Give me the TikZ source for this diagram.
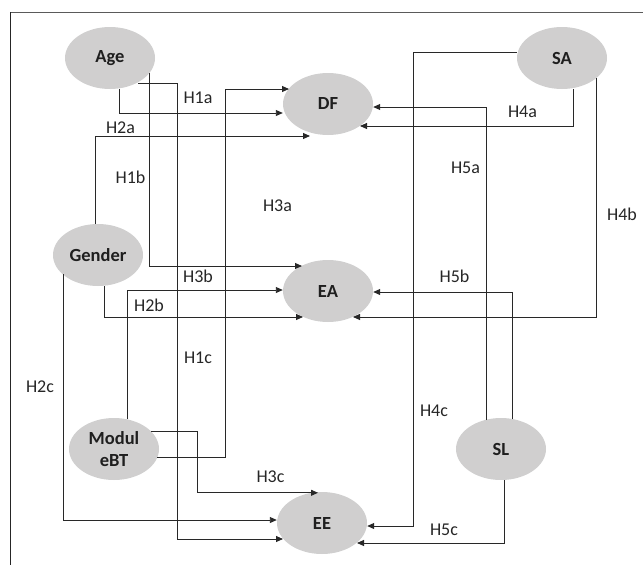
\documentclass[tikz,border=0pt]{standalone}
\usepackage{fontspec}
\setmainfont{Carlito}
\usetikzlibrary{arrows.meta,calc,shapes.geometric}
\definecolor{nodefill}{RGB}{208,207,207}
\definecolor{lineclr}{RGB}{40,40,40}
\definecolor{frameclr}{RGB}{90,90,90}
\begin{document}
\begin{tikzpicture}[x=1pt,y=-1pt,
  var/.style={ellipse,fill=nodefill,minimum width=90pt,minimum height=62pt,inner sep=0pt,
    font=\bfseries\fontsize{18.5}{21.5}\selectfont,text=black!88,align=center},
  conn/.style={draw=lineclr,line width=0.9pt,-{Triangle[length=7pt,width=6pt]}},
  hlab/.style={anchor=base,font=\fontsize{18}{20}\selectfont,text=black!85,inner sep=0pt}]
\useasboundingbox (0,0) rectangle (643,565);
% frame
\coordinate (ftl) at (10,12);
\coordinate (ftr) at (643,12);
\coordinate (fbl) at (10,565);
\draw[frameclr,line width=1pt] (ftl) -- (ftr);
\draw[black!85,line width=1pt] (ftl) -- (fbl);
% nodes
\node[var] (Age) at (110,58) {Age};
\node[var] (DF) at (328,104) {DF};
\node[var] (SA) at (562,58) {SA};
\node[var] (Gender) at (98,255) {Gender};
\node[var] (EA) at (328,291) {EA};
\node[var] (Modul) at (114,449) {Modul\\eBT};
\node[var] (SL) at (501,449) {SL};
\node[var] (EE) at (322,523) {EE};
% connectors
\draw[conn] ($(Age.south)+(9,0)$) |- ($(DF.west)+(0,9)$); % H1a
\draw[conn] ($(Age.center)+(39,15)$) |- ($(EA.center)+(-26,-25)$); % H1b
\draw[conn] ($(Age.center)+(28,25)$) -- ++(39,0) |- ($(EE.center)+(-39,16)$); % H1c
\draw[conn] ($(Gender.north)+(-3,0)$) |- ($(DF.center)+(-18,32)$); % H2a
\draw[conn] ($(Gender.south)+(6,0)$) |- ($(EA.center)+(-25,26)$); % H2b
\draw[conn] ($(Gender.center)+(-35,19)$) |- ($(EE.west)+(0,-3)$); % H2c
\draw[conn] ($(Modul.center)+(43,8)$) -- ++(68,0) |- ($(DF.center)+(-39,-15)$); % H3a
\draw[conn] ($(Modul.center)+(13,-30)$) |- ($(EA.west)+(0,-1)$); % H3b
\draw[conn] ($(Modul.center)+(37,-18)$) -- ++(46,0) |- ($(EE.north)+(-4,1)$); % H3c
\draw[conn] ($(SA.south)+(11,0)$) |- ($(DF.center)+(32,22)$); % H4a
\draw[conn] ($(SA.center)+(34,20)$) |- ($(EA.center)+(25,26)$); % H4b
\draw[conn] ($(SA.west)+(0,-6)$) -- ++(-103,0) |- ($(EE.east)+(0,3)$); % H4c
\draw[conn] ($(SL.center)+(-15,-29)$) |- ($(DF.east)+(0,3)$); % H5a
\draw[conn] ($(SL.center)+(11,-30)$) |- ($(EA.east)+(0,1)$); % H5b
\draw[conn] ($(SL.south)+(3,0)$) |- ($(EE.center)+(35,20)$); % H5c
% labels
\node[hlab] (l1a) at (198,103) {H1a};
\node[hlab] (l2a) at (120.5,133) {H2a};
\node[hlab] (l1b) at (130.5,183) {H1b};
\node[hlab] (l3a) at (277.5,211) {H3a};
\node[hlab] (l3b) at (198,282) {H3b};
\node[hlab] (l2b) at (149,311) {H2b};
\node[hlab] (l1c) at (198,363) {H1c};
\node[hlab] (l2c) at (40,392) {H2c};
\node[hlab] (l3c) at (270.5,482) {H3c};
\node[hlab] (l4a) at (522.5,117) {H4a};
\node[hlab] (l5a) at (465.5,173) {H5a};
\node[hlab] (l4b) at (622,220) {H4b};
\node[hlab] (l5b) at (454.5,282) {H5b};
\node[hlab] (l4c) at (434,416) {H4c};
\node[hlab] (l5c) at (444,535) {H5c};
\end{tikzpicture}
\end{document}
